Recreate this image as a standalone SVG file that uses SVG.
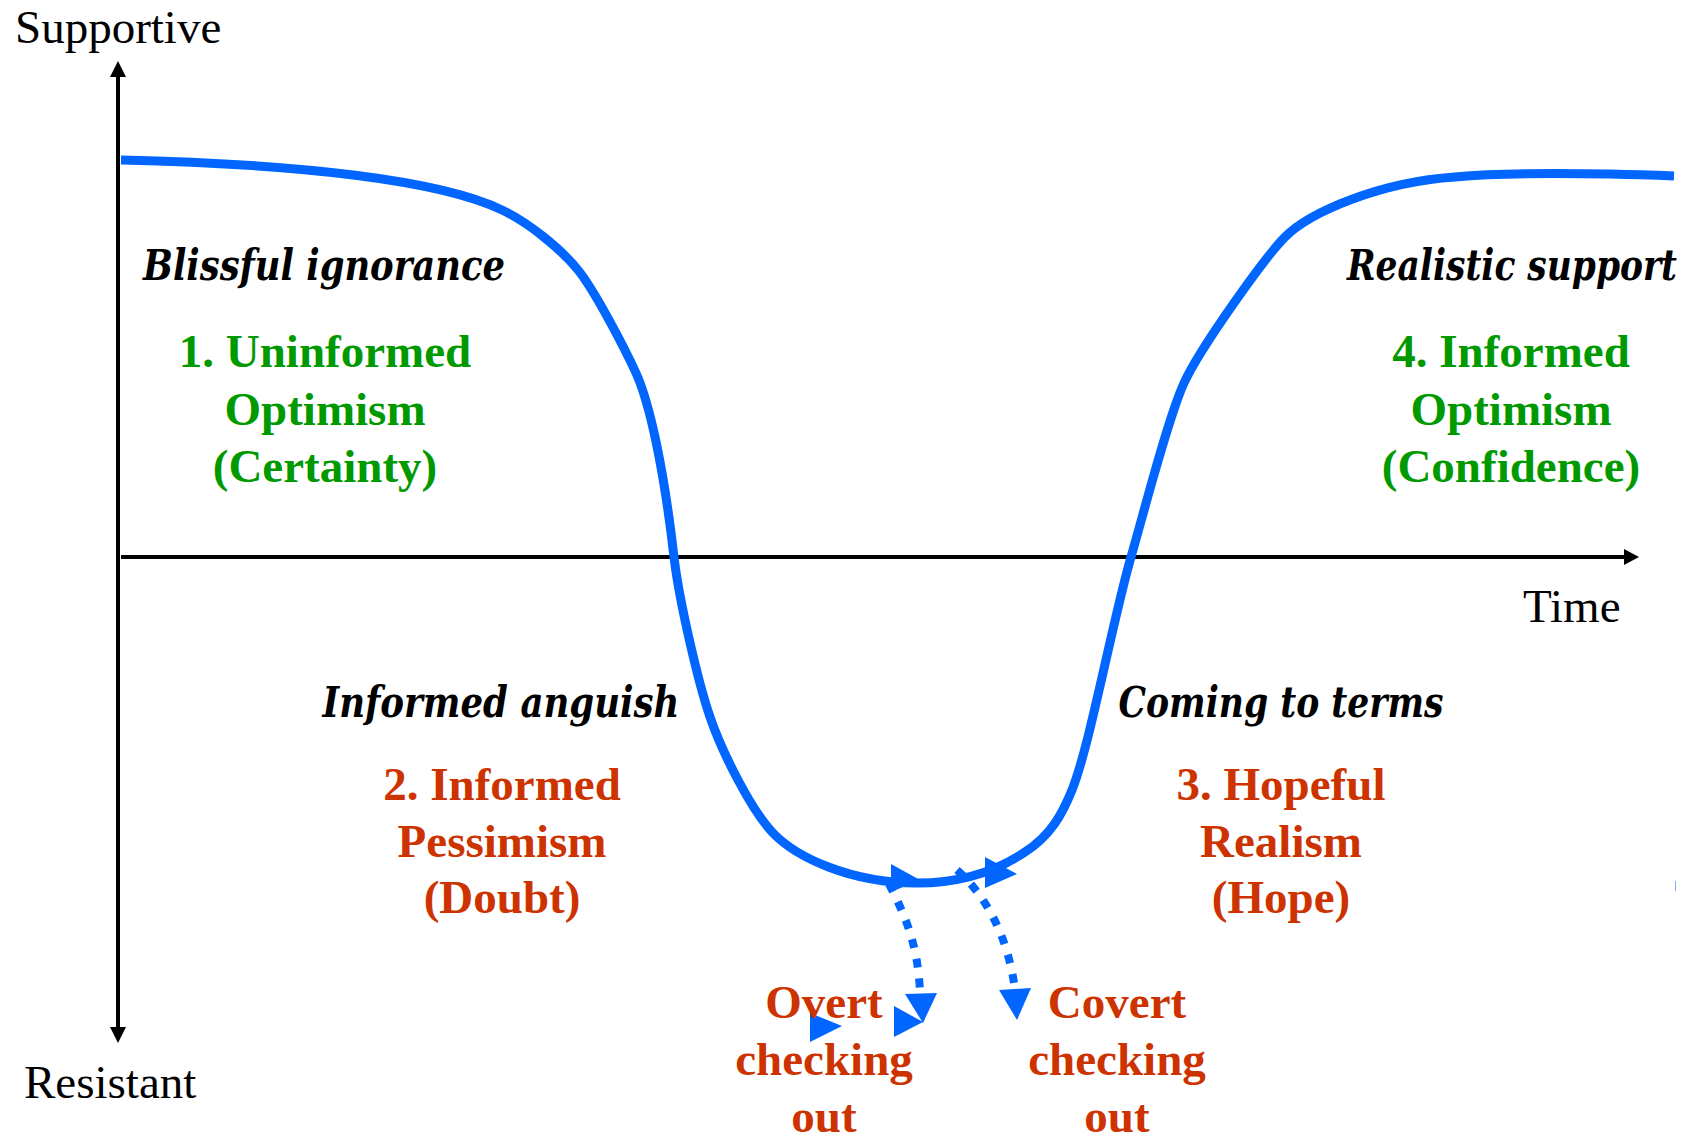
<svg xmlns="http://www.w3.org/2000/svg" width="1685" height="1135" viewBox="0 0 1685 1135">
  <style>
    .axis { stroke: #000; stroke-width: 4; fill: none; }
    .head { fill: #000; }
    .axlabel { font-family: "Liberation Serif", "Times New Roman", serif; font-size: 47px; fill: #000; }
    .phase { font-family: "DejaVu Serif", serif; font-weight: bold; font-style: italic; font-size: 43px; fill: #000; text-anchor: middle; }
    .stage { font-family: "Liberation Serif", "Times New Roman", serif; font-weight: bold; font-size: 47px; text-anchor: middle; }
    .good { fill: #009900; }
    .bad { fill: #CC3300; }
    .curve { stroke: #0066FF; stroke-width: 9; fill: none; stroke-linecap: butt; }
    .dotted { stroke: #0066FF; stroke-width: 8; fill: none; stroke-dasharray: 9 11; }
    .tip { fill: #0066FF; }
  </style>

  <!-- axes -->
  <g id="axes">
    <line class="axis" x1="118" y1="76" x2="118" y2="1028"/>
    <polygon class="head" points="118,61 110,77 126,77"/>
    <polygon class="head" points="118,1043 110,1027 126,1027"/>
    <line class="axis" x1="121" y1="557" x2="1625" y2="557"/>
    <polygon class="head" points="1639,557 1624,549 1624,565"/>
    <text class="axlabel" x="15" y="43">Supportive</text>
    <text class="axlabel" x="24" y="1098">Resistant</text>
    <text class="axlabel" x="1523" y="622">Time</text>
  </g>

  <!-- change curve and checking-out branches -->
  <g id="connectors">
    <path class="curve" d="M121,160 C300,164 440,180 502,210 C528,222 561,249 578,270 C595,291 625,349 636,373 C650,404 664,470 674,557 C679,600 698,682 710,717 C722,752 751,810 773,833 C796,857 850,883 917,883 C960,883 995,872 1025,852 C1050,836 1062,815 1072,790 C1090,745 1112,623 1131,557 C1144,512 1168,418 1184,383 C1200,348 1265,257 1285,237 C1310,212 1380,182 1455,177 C1500,173 1560,172 1674,176"/>
    <polygon class="tip" points="891,864 891,892 920,880"/>
    <polygon class="tip" points="985,857 985,888 1017,874"/>
    <path class="dotted" d="M889,884 C902,910 918,940 920,993"/>
    <polygon class="tip" points="905,994 937,993 923,1023"/>
    <polygon class="tip" points="894,1006 894,1037 923,1022"/>
    <polygon class="tip" points="810,1013 810,1042 842,1026"/>
    <path class="dotted" d="M957,870 C985,895 1008,935 1015,990"/>
    <polygon class="tip" points="999,990 1031,988 1017,1020"/>
    <line x1="1675.5" y1="881" x2="1675.5" y2="891" stroke="#7fa8ff" stroke-width="1"/>
  </g>

  <g id="stage1">
    <text class="phase" x="324" y="280" textLength="362" lengthAdjust="spacingAndGlyphs">Blissful ignorance</text>
    <text class="stage good" x="325" y="367">1. Uninformed</text>
    <text class="stage good" x="325" y="425">Optimism</text>
    <text class="stage good" x="325" y="482">(Certainty)</text>
  </g>

  <g id="stage2">
    <text class="phase" x="501" y="717" textLength="357" lengthAdjust="spacingAndGlyphs">Informed anguish</text>
    <text class="stage bad" x="502" y="800">2. Informed</text>
    <text class="stage bad" x="502" y="857">Pessimism</text>
    <text class="stage bad" x="502" y="913">(Doubt)</text>
  </g>

  <g id="stage3">
    <text class="phase" x="1281" y="717" textLength="325" lengthAdjust="spacingAndGlyphs">Coming to terms</text>
    <text class="stage bad" x="1281" y="800">3. Hopeful</text>
    <text class="stage bad" x="1281" y="857">Realism</text>
    <text class="stage bad" x="1281" y="913">(Hope)</text>
  </g>

  <g id="stage4">
    <text class="phase" x="1512" y="280" textLength="330" lengthAdjust="spacingAndGlyphs">Realistic support</text>
    <text class="stage good" x="1511" y="367">4. Informed</text>
    <text class="stage good" x="1511" y="425">Optimism</text>
    <text class="stage good" x="1511" y="482">(Confidence)</text>
  </g>

  <g id="overt">
    <text class="stage bad" x="824" y="1018">Overt</text>
    <text class="stage bad" x="824" y="1075">checking</text>
    <text class="stage bad" x="824" y="1132">out</text>
  </g>

  <g id="covert">
    <text class="stage bad" x="1117" y="1018">Covert</text>
    <text class="stage bad" x="1117" y="1075">checking</text>
    <text class="stage bad" x="1117" y="1132">out</text>
  </g>
</svg>
